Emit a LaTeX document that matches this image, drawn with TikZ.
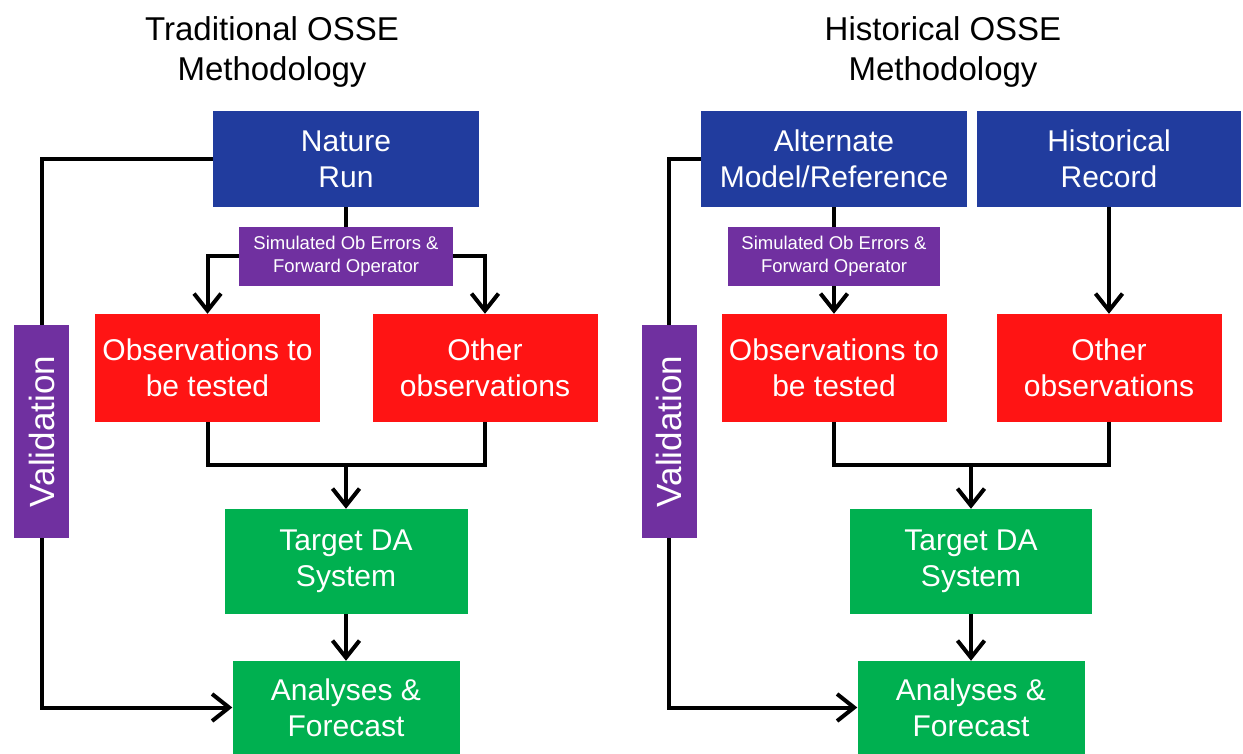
\documentclass[tikz,border=0pt]{standalone}
\usepackage{fontspec}
\setmainfont{Liberation Sans}
\usepackage{graphicx}
\usetikzlibrary{arrows.meta}
\definecolor{osseblue}{RGB}{33,60,158}
\definecolor{ossered}{RGB}{255,20,20}
\definecolor{ossegreen}{RGB}{0,176,80}
\definecolor{ossepurple}{RGB}{112,48,160}

\begin{document}
\begin{tikzpicture}[x=1pt,y=-1pt,
    title/.style={align=center,inner sep=0pt,font=\fontsize{33}{40}\selectfont},
    box/.style={inner sep=0pt,align=center,text=white,font=\fontsize{30}{36}\selectfont},
    bluebox/.style={box,fill=osseblue,minimum width=266pt,minimum height=96pt},
    redbox/.style={box,fill=ossered,minimum width=225pt,minimum height=108pt},
    greenbox/.style={box,fill=ossegreen},
    simbox/.style={box,fill=ossepurple,minimum height=59pt,font=\fontsize{18.5}{23}\selectfont},
    valbox/.style={box,fill=ossepurple,minimum width=55pt,minimum height=213pt,font=\fontsize{35}{36}\selectfont},
    link/.style={line width=4pt},
    flow/.style={link,-{Straight Barb[length=17pt,width=27pt]}}]

    % Cadre de l'image
    \useasboundingbox (0,0) rectangle (1243,754);

    % Hauteur de la jonction des observations
    \pgfmathsetmacro{\yjonction}{465}

    % ---- Méthodologie traditionnelle ----
    \node[title] (titleL) at (272,52) {Traditional OSSE\\Methodology};
    \node[bluebox] (natL) at (346,159) {Nature\\Run};
    \node[simbox,minimum width=214pt] (simL) at (346,256.5) {Simulated Ob Errors \&\\Forward Operator};
    \node[redbox] (obsL) at (207.5,368) {Observations to\\be tested};
    \node[redbox] (othL) at (485,368) {Other\\observations};
    \node[valbox] (valL) at (41.5,431.5) {\rotatebox{90}{Validation}};
    \node[greenbox,minimum width=243pt,minimum height=105pt] (tdaL) at (346,561.5) {Target DA\\System};
    \node[greenbox,minimum width=227pt,minimum height=93pt] (anaL) at (346,707.5) {Analyses \&\\Forecast};
    \coordinate (mergeL) at (346,\yjonction);

    \draw[link] (natL.south) -- (simL.north);
    \draw[flow] (simL.west) -| (obsL.north);
    \draw[flow] (simL.east) -| (othL.north);
    \draw[link] (obsL.south) |- (mergeL) -| (othL.south);
    \draw[flow] (mergeL) -- (tdaL.north);
    \draw[flow] (tdaL.south) -- (anaL.north);
    \draw[link] (natL.west) -| (valL.north);
    \draw[flow] (valL.south) |- (anaL.west);

    % ---- Méthodologie historique ----
    \node[title] (titleR) at (943,52) {Historical OSSE\\Methodology};
    \node[bluebox] (altR) at (834,159) {Alternate\\Model/Reference};
    \node[bluebox,minimum width=264pt] (hisR) at (1109,159) {Historical\\Record};
    \node[simbox,minimum width=212pt] (simR) at (834,256.5) {Simulated Ob Errors \&\\Forward Operator};
    \node[redbox] (obsR) at (834,368) {Observations to\\be tested};
    \node[redbox] (othR) at (1109,368) {Other\\observations};
    \node[valbox] (valR) at (669,431.5) {\rotatebox{90}{Validation}};
    \node[greenbox,minimum width=242pt,minimum height=105pt] (tdaR) at (971,561.5) {Target DA\\System};
    \node[greenbox,minimum width=227pt,minimum height=93pt] (anaR) at (971,707.5) {Analyses \&\\Forecast};
    \coordinate (mergeR) at (971,\yjonction);

    \draw[link] (altR.south) -- (simR.north);
    \draw[flow] (simR.south) -- (obsR.north);
    \draw[flow] (hisR.south) -- (othR.north);
    \draw[link] (obsR.south) |- (mergeR) -| (othR.south);
    \draw[flow] (mergeR) -- (tdaR.north);
    \draw[flow] (tdaR.south) -- (anaR.north);
    \draw[link] (altR.west) -| (valR.north);
    \draw[flow] (valR.south) |- (anaR.west);

\end{tikzpicture}
\end{document}
